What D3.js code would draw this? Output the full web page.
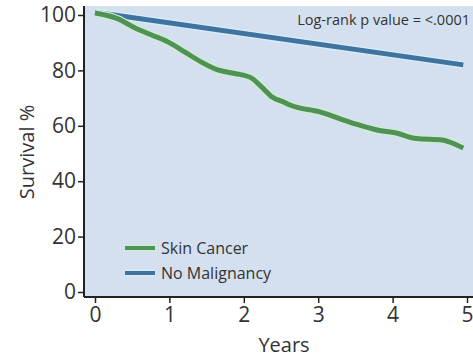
<!DOCTYPE html>
<html>
<head>
<meta charset="utf-8">
<script src="https://cdn.jsdelivr.net/npm/d3@7"></script>
<style>
  body { margin: 0; background: #fff; }
  svg { display: block; font-family: 'Open Sans', sans-serif; }
</style>
</head>
<body>
<svg></svg>
<script>
// Data

const skinYears = [0, 0.31, 0.54, 0.76, 0.98, 1.21, 1.43, 1.65, 1.88, 2.1, 2.24, 2.37, 2.55, 2.62, 3.02, 3.46, 3.79, 4.05, 4.32, 4.67, 4.8, 4.95]
const skinSurvival = [100.7, 98.6, 95.3, 92.8, 90.3, 86.6, 83, 80.2, 78.9, 77.3, 74, 70.6, 68.4, 67.5, 65, 61, 58.5, 57.4, 55.4, 54.9, 53.8, 52]

const noneYears = [0, 4.95]
const noneSurvival = [101, 82]

const xTicks = [0, 1, 2, 3, 4, 5]
const yTicks = [0, 20, 40, 60, 80, 100]

const legendLabels = ['Skin Cancer', 'No Malignancy']

// Layout

const width = 473
const height = 358

const svg = d3.select('svg')
    .attr('width', width)
    .attr('height', height)

const x = d3.scaleLinear().domain([0, 5]).range([95, 467])
const y = d3.scaleLinear().domain([0, 100]).range([292, 15])

const plotLeft = 84
const plotTop = 6
const plotBottom = 297

svg.append('rect')
    .attr('x', plotLeft)
    .attr('y', plotTop)
    .attr('width', width - plotLeft)
    .attr('height', plotBottom - plotTop)
    .attr('fill', '#d4e0ef')

// Lines

const line = d3.line()
    .x(d => x(d[0]))
    .y(d => y(d[1]))
    .curve(d3.curveMonotoneX)

const series = [
  {pts: d3.zip(noneYears, noneSurvival), color: '#40739f', halo: '#d6f0fa'},
  {pts: d3.zip(skinYears, skinSurvival), color: '#4f9159', halo: '#ccf0c6'},
]

series.forEach(s => {
  svg.append('path')
      .attr('d', line(s.pts))
      .attr('fill', 'none')
      .attr('stroke', s.halo)
      .attr('stroke-width', 7.5)
  svg.append('path')
      .attr('d', line(s.pts))
      .attr('fill', 'none')
      .attr('stroke', s.color)
      .attr('stroke-width', 5)
})

// Axes

const xAxis = svg.append('g')
    .attr('transform', `translate(0,${plotBottom})`)
    .call(d3.axisBottom(x).tickValues(xTicks).tickSize(6).tickPadding(4).tickFormat(d3.format('d')))

const yAxis = svg.append('g')
    .attr('transform', `translate(${plotLeft},0)`)
    .call(d3.axisLeft(y).tickValues(yTicks).tickSize(6).tickPadding(2).tickFormat(d3.format('d')))

xAxis.select('.domain').attr('d', `M${plotLeft},0H${width}`)
yAxis.select('.domain').attr('d', `M0,${plotTop}V${plotBottom}`)

for (const g of [xAxis, yAxis]) {
  g.select('.domain').attr('stroke', '#222').attr('stroke-width', 2)
  g.selectAll('.tick line').attr('stroke', '#222').attr('stroke-width', 1.5)
  g.selectAll('.tick text')
      .attr('fill', '#333')
      .style('font-size', '21px')
      .style('font-family', "'Open Sans', sans-serif")
}

// Labels

svg.append('text')
    .attr('transform', `translate(34,152) rotate(-90)`)
    .attr('text-anchor', 'middle')
    .attr('fill', '#333')
    .style('font-size', '20px')
    .text('Survival %')

svg.append('text')
    .attr('x', 284)
    .attr('y', 352)
    .attr('text-anchor', 'middle')
    .attr('fill', '#333')
    .style('font-size', '20px')
    .text('Years')

svg.append('text')
    .attr('x', 470)
    .attr('y', 25)
    .attr('text-anchor', 'end')
    .attr('fill', '#333')
    .style('font-size', '14.5px')
    .text('Log-rank p value = <.0001')

// Legend

const legend = svg.append('g')
    .selectAll('g')
    .data(legendLabels)
    .join('g')
    .attr('transform', (d, i) => `translate(125,${248 + i * 25})`)

legend.append('line')
    .attr('x1', 0).attr('x2', 30)
    .attr('stroke', (d, i) => [series[1], series[0]][i].halo)
    .attr('stroke-width', 6.5)
legend.append('line')
    .attr('x1', 0).attr('x2', 30)
    .attr('stroke', (d, i) => [series[1], series[0]][i].color)
    .attr('stroke-width', 4)

legend.append('text')
    .attr('x', 36)
    .attr('y', 6)
    .attr('fill', '#333')
    .style('font-size', '16px')
    .text(d => d)
</script>
</body>
</html>
